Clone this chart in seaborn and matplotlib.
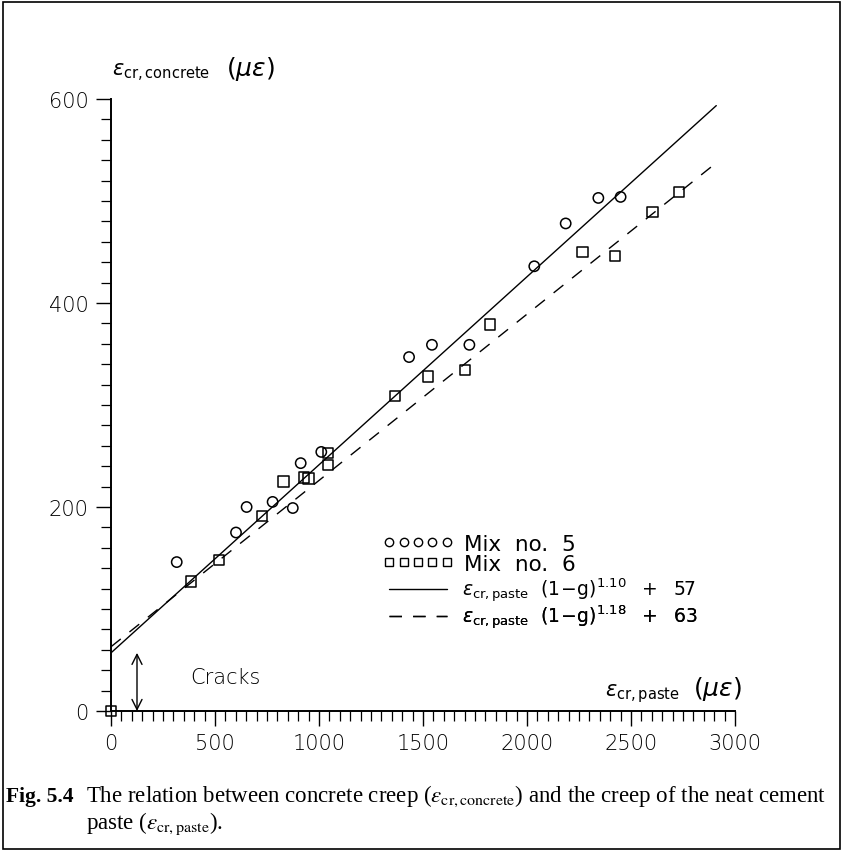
import numpy as np
import pandas as pd
import matplotlib
matplotlib.use("Agg")
import matplotlib.pyplot as plt
from matplotlib.patches import Rectangle
from matplotlib.lines import Line2D
from matplotlib.ticker import MultipleLocator
import seaborn as sns

# Creep of the cement paste vs. creep of the concrete (microstrain)
mix5_paste = [316, 601, 652, 777, 874, 912, 1011, 1433, 1543, 1723, 2035, 2186, 2343, 2450]
mix5_concrete = [146, 175, 200, 205, 199, 243, 254, 347, 359, 359, 436, 478, 503, 504]

mix6_paste = [0, 383, 519, 725, 829, 928, 950, 1042, 1042, 1367, 1525, 1703, 1822,
              2267, 2424, 2604, 2730]
mix6_concrete = [0, 127, 148, 191, 225, 229, 228, 253, 241, 309, 328, 334, 379,
                 450, 446, 489, 509]

# Fitted relations: eps_concrete = eps_paste * (1 - g)^n + c
g = 0.785
fit_exponents = [1.10, 1.18]
fit_offsets = [57, 63]
fit_span = [0, 2910]

x_ticks = [0, 500, 1000, 1500, 2000, 2500, 3000]
y_ticks = [0, 200, 400, 600]

sns.set_theme(style="white")
plt.rcParams["font.family"] = ["DejaVu Sans"]
plt.rcParams["mathtext.fontset"] = "dejavusans"
plt.rcParams["text.color"] = "black"

points = pd.concat([
    pd.DataFrame({"paste": mix5_paste, "concrete": mix5_concrete, "mix": "Mix  no.  5"}),
    pd.DataFrame({"paste": mix6_paste, "concrete": mix6_concrete, "mix": "Mix  no.  6"}),
])

fit_rows = []
for n, c in zip(fit_exponents, fit_offsets):
    for x in fit_span:
        fit_rows.append({"paste": x, "concrete": x * (1 - g) ** n + c, "exp": n})
fits = pd.DataFrame(fit_rows)

fig = plt.figure(figsize=(8.43, 8.53), dpi=100)
ax = fig.add_axes([111 / 843, (853 - 712) / 853, (735 - 111) / 843, (712 - 100) / 853])

solid = fits[fits["exp"] == fit_exponents[0]]
dashed = fits[fits["exp"] == fit_exponents[1]]
sns.lineplot(data=solid, x="paste", y="concrete", color="black", lw=1.0, ax=ax)
sns.lineplot(data=dashed, x="paste", y="concrete", color="black", lw=1.0, ax=ax)
ax.lines[1].set_dashes((9, 8))

sns.scatterplot(data=points, x="paste", y="concrete", style="mix",
                markers={"Mix  no.  5": "o", "Mix  no.  6": "s"},
                s=55, facecolor="none", edgecolor="black", linewidth=1.1,
                legend=False, ax=ax, clip_on=False, zorder=3)

ax.set_xlim(0, 3000)
ax.set_ylim(0, 600)
ax.set_xticks(x_ticks)
ax.set_yticks(y_ticks)
ax.xaxis.set_minor_locator(MultipleLocator(50))
ax.yaxis.set_minor_locator(MultipleLocator(20))
ax.tick_params(which="major", direction="out", length=11, width=1.0, color="black",
               labelsize=15, labelcolor="black", pad=5, bottom=True, left=True)
ax.tick_params(which="minor", direction="out", length=7, width=0.9, color="black",
               bottom=True, left=True)
for lab in ax.get_xticklabels() + ax.get_yticklabels():
    lab.set_fontweight("light")
ax.set_xlabel("")
ax.set_ylabel("")
sns.despine(ax=ax)
for side in ("left", "bottom"):
    ax.spines[side].set_linewidth(1.4)
    ax.spines[side].set_color("black")
ax.grid(False)

# Axis titles
fig.text(112 / 843, 1 - 76 / 853, r"$\varepsilon_{\mathrm{cr,concrete}}$",
         fontsize=15, va="baseline", ha="left")
fig.text(226 / 843, 1 - 76 / 853, r"$(\mu\varepsilon)$",
         fontsize=18, va="baseline", ha="left")
fig.text(605 / 843, 1 - 696 / 853, r"$\varepsilon_{\mathrm{cr,paste}}$",
         fontsize=15, va="baseline", ha="left")
fig.text(693 / 843, 1 - 696 / 853, r"$(\mu\varepsilon)$",
         fontsize=18, va="baseline", ha="left")

# Zone below the intercept where the paste is cracked
ax.annotate("", xy=(125, 0), xytext=(125, fit_offsets[0]),
            arrowprops=dict(arrowstyle="<->", color="black", lw=1.0,
                            mutation_scale=18, shrinkA=0, shrinkB=0))
ax.text(380, 33, "Cracks", fontsize=15, fontweight="light", va="center", ha="left")

# Legend, one row per entry
rows = [
    (Line2D([], [], ls="none", marker="o", mfc="none", mec="black", ms=6, mew=1.0),
     "Mix  no.  5", 545, 15.5),
    (Line2D([], [], ls="none", marker="s", mfc="none", mec="black", ms=5.5, mew=1.0),
     "Mix  no.  6", 565, 15.5),
    (Line2D([], [], color="black", lw=1.0),
     r"$\varepsilon_{\mathrm{cr,paste}}\ \ (1\!-\!\mathrm{g})^{1.10}\ \ +\ \ 57$", 591, 13.5),
    (Line2D([], [], color="black", lw=1.0, dashes=(9, 8)),
     r"$\varepsilon_{\mathrm{cr,paste}}\ \ (1\!-\!\mathrm{g})^{1.18}\ \ +\ \ 63$", 618, 13.5),
]
for handle, label, y_px, size in rows:
    leg = ax.legend([handle], [label], loc="center left",
                    bbox_to_anchor=(383 / 843, 1 - y_px / 853),
                    bbox_transform=fig.transFigure, frameon=False, fontsize=size,
                    numpoints=5, handlelength=70 / size * 0.72, handletextpad=0.5,
                    borderpad=0, borderaxespad=0)
    ax.add_artist(leg)

# Caption
fig.text(6 / 843, 1 - 802 / 853, "Fig. 5.4", fontsize=15.5, fontweight="bold",
         family=["Liberation Serif"], va="baseline")
fig.text(86 / 843, 1 - 802 / 853,
         r"The relation between concrete creep ($\epsilon_{\mathrm{cr,concrete}}$) "
         r"and the creep of the neat cement",
         fontsize=16.5, family=["Liberation Serif"], math_fontfamily="stix",
         va="baseline")
fig.text(86 / 843, 1 - 829 / 853, r"paste ($\epsilon_{\mathrm{cr,paste}}$).",
         fontsize=16.5, family=["Liberation Serif"], math_fontfamily="stix",
         va="baseline")

fig.add_artist(Rectangle((0.004, 0.004), 0.992, 0.992, transform=fig.transFigure,
                         fill=False, lw=1.2, edgecolor="black"))

fig.savefig("out.png", dpi=100)
